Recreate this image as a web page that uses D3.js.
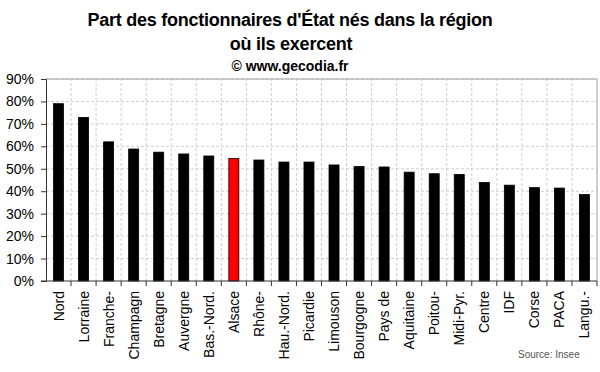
<!DOCTYPE html>
<html>
<head>
<meta charset="utf-8">
<script src="https://cdn.jsdelivr.net/npm/d3@7"></script>
<style>
  body { margin: 0; background: #fff; }
  svg { display: block; font-family: Arial, "Liberation Sans", sans-serif; }
</style>
</head>
<body>
<script>
// regions and share of civil servants born in the region (%)
const regions = ['Nord', 'Lorraine', 'Franche-', 'Champagn', 'Bretagne', 'Auvergne', 'Bas.-Nord.',
  'Alsace', 'Rhône-', 'Hau.-Nord.', 'Picardie', 'Limouson', 'Bourgogne', 'Pays de', 'Aquitaine',
  'Poitou-', 'Midi-Pyr.', 'Centre', 'IDF', 'Corse', 'PACA', 'Langu.-'];
const values = [79, 72.9, 62, 58.8, 57.4, 56.6, 55.7, 54.6, 53.9, 53, 53, 51.7, 51, 50.8, 48.5,
  47.8, 47.5, 43.9, 42.7, 41.6, 41.4, 38.5];
const highlight = 'Alsace';
const yTicks = [0, 10, 20, 30, 40, 50, 60, 70, 80, 90];

const W = 600, H = 372;
const m = { left: 46, right: 3, top: 79, bottom: 91 };

const svg = d3.select('body').append('svg')
  .attr('width', W)
  .attr('height', H);

const x = d3.scaleBand()
  .domain(regions)
  .range([m.left, W - m.right])
  .paddingInner(0.6)
  .paddingOuter(0.3);

const y = d3.scaleLinear()
  .domain([0, 90])
  .range([H - m.bottom, m.top]);

const boundaries = d3.range(regions.length + 1).map(i => m.left + i * (W - m.left - m.right) / regions.length);

// gridlines
svg.append('g')
  .selectAll('line')
  .data(yTicks.slice(1))
  .join('line')
  .attr('x1', m.left).attr('x2', W - m.right)
  .attr('y1', d => y(d)).attr('y2', d => y(d))
  .attr('stroke', '#cfcfcf')
  .attr('stroke-dasharray', '3,2');

svg.append('g')
  .selectAll('line')
  .data(boundaries.slice(1, -1))
  .join('line')
  .attr('x1', d => d).attr('x2', d => d)
  .attr('y1', y(0)).attr('y2', y(90))
  .attr('stroke', '#cfcfcf')
  .attr('stroke-dasharray', '3,2');

// plot frame (top & right)
svg.append('path')
  .attr('d', `M${m.left},${y(90)}H${W - m.right}V${y(0)}`)
  .attr('fill', 'none')
  .attr('stroke', '#a0a0a0');

// bars
svg.append('g')
  .selectAll('rect')
  .data(regions)
  .join('rect')
  .attr('x', d => x(d))
  .attr('y', (d, i) => y(values[i]))
  .attr('width', x.bandwidth())
  .attr('height', (d, i) => y(0) - y(values[i]))
  .attr('fill', d => d === highlight ? '#ff0000' : '#000')
  .attr('stroke', '#000')
  .attr('stroke-width', 0.8);

// y axis
const yAxis = svg.append('g')
  .attr('transform', `translate(${m.left},0)`)
  .call(d3.axisLeft(y).tickValues(yTicks).tickFormat(d => d + '%').tickSize(5).tickPadding(7));
yAxis.select('.domain').attr('stroke', '#333');
yAxis.selectAll('.tick line').attr('stroke', '#333');
yAxis.selectAll('text').attr('font-size', 14).attr('fill', '#000').attr('font-family', 'Arial, "Liberation Sans", sans-serif');

// x axis
svg.append('line')
  .attr('x1', m.left - 5).attr('x2', W - m.right)
  .attr('y1', y(0)).attr('y2', y(0))
  .attr('stroke', '#333');

svg.append('g')
  .selectAll('line')
  .data(boundaries.slice(1))
  .join('line')
  .attr('x1', d => d).attr('x2', d => d)
  .attr('y1', y(0)).attr('y2', y(0) + 5)
  .attr('stroke', '#333');

svg.append('g')
  .selectAll('text')
  .data(regions)
  .join('text')
  .attr('transform', d => `translate(${x(d) + x.bandwidth() / 2 + 5},${y(0) + 10}) rotate(-90)`)
  .attr('text-anchor', 'end')
  .attr('font-size', 14)
  .text(d => d);

// titles
svg.append('text')
  .attr('x', 290).attr('y', 26)
  .attr('text-anchor', 'middle')
  .attr('font-size', 18).attr('font-weight', 'bold')
  .attr('letter-spacing', -0.25)
  .text("Part des fonctionnaires d'État nés dans la région");
svg.append('text')
  .attr('x', 291).attr('y', 50)
  .attr('text-anchor', 'middle')
  .attr('font-size', 18).attr('font-weight', 'bold')
  .attr('letter-spacing', -0.25)
  .text('où ils exercent');
svg.append('text')
  .attr('x', 290).attr('y', 71)
  .attr('text-anchor', 'middle')
  .attr('font-size', 14).attr('font-weight', 'bold')
  .text('© www.gecodia.fr');

svg.append('text')
  .attr('x', 518).attr('y', 358)
  .attr('font-size', 10)
  .attr('fill', '#555')
  .text('Source: Insee');
</script>
</body>
</html>
